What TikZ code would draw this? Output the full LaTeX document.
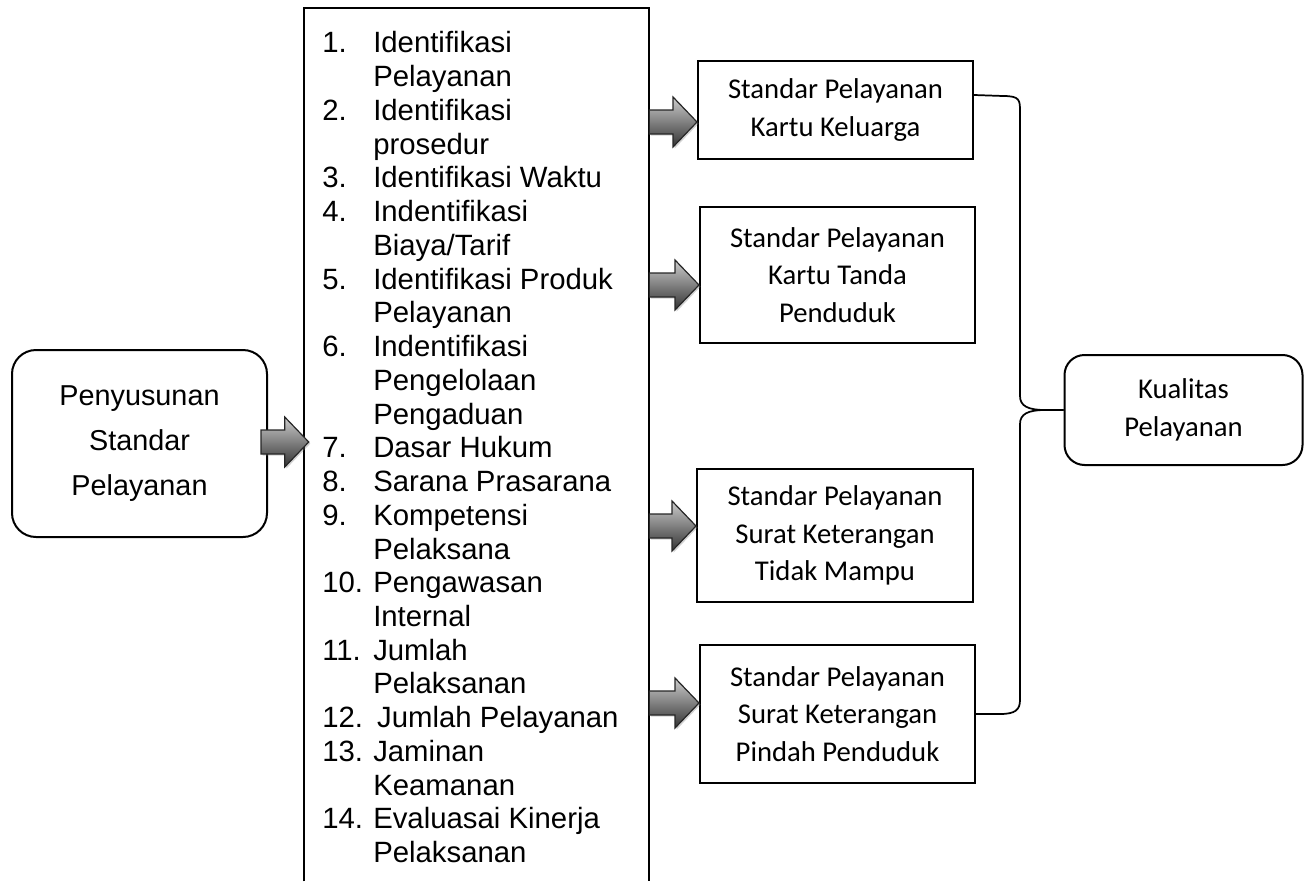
\documentclass[tikz,border=0pt]{standalone}
\usepackage{fontspec}
\setmainfont{Liberation Sans}
\newfontfamily\calib{Carlito}
\usetikzlibrary{calc,shadows}
\newcommand\fatarrow[4]{%
  \draw[fatarr] let \p1=(#1), \p2=(#2) in
    (\x1-#3,\y1+9pt) -- (\x2+#4-18pt,\y1+9pt) -- (\x2+#4-18pt,\y1+18.75pt) --
    (\x2+#4,\y1) -- (\x2+#4-18pt,\y1-18.75pt) -- (\x2+#4-18pt,\y1-9pt) --
    (\x1-#3,\y1-9pt) -- cycle;}
\begin{document}
\begin{tikzpicture}[x=0.75pt,y=-0.75pt,
  box/.style={draw, line width=1.5pt, rectangle, inner sep=0pt, align=center,
    font=\calib\fontsize{21.5}{28}\selectfont},
  rbox/.style={draw, line width=1.5pt, rounded corners=18pt, inner sep=0pt, align=center},
  fatarr/.style={draw=black!85, line width=0.9pt, top color=gray!40, bottom color=black!80,
    drop shadow={shadow xshift=1.2pt, shadow yshift=-1.2pt, opacity=0.35}},
  bracesty/.style={line width=1.3pt}]
\useasboundingbox (0,0) rectangle (1305,881);

% left rounded box
\node[rbox, minimum width=191.25pt, minimum height=140.25pt,
  font=\fontsize{21.6}{33.75}\selectfont] (pen) at (139.5,443.5) {Penyusunan\\Standar\\Pelayanan};

% list box (open at bottom)
\node[inner sep=0pt, minimum width=258.75pt, minimum height=654.75pt] (list) at (476.5,444.5) {};
\draw[line width=1.7pt] (list.south west) -- (list.north west) -- (list.north east) -- (list.south east);
\node[anchor=base west, inner sep=0pt, font=\fontsize{22}{25.3}\selectfont] (items) at (322,53) {%
\renewcommand\arraystretch{1}%
\begin{tabular}[t]{@{}p{38.25pt}@{}l@{}}
1.& Identifikasi\\ & Pelayanan\\
2.& Identifikasi\\ & prosedur\\
3.& Identifikasi Waktu\\
4.& Indentifikasi\\ & Biaya/Tarif\\
5.& Identifikasi Produk\\ & Pelayanan\\
6.& Indentifikasi\\ & Pengelolaan\\ & Pengaduan\\
7.& Dasar Hukum\\
8.& Sarana Prasarana\\
9.& Kompetensi\\ & Pelaksana\\
10.& Pengawasan\\ & Internal\\
11.& Jumlah\\ & Pelaksanan\\
12.& \hspace{3pt}Jumlah Pelayanan\\
13.& Jaminan\\ & Keamanan\\
14.& Evaluasai Kinerja\\ & Pelaksanan
\end{tabular}};

% right boxes
\node[box, minimum width=206.25pt, minimum height=73.5pt] (b1) at (835.5,110) {Standar Pelayanan\\Kartu Keluarga};
\node[box, minimum width=206.25pt, minimum height=102pt] (b2) at (837.5,275) {Standar Pelayanan\\Kartu Tanda\\Penduduk};
\node[box, minimum width=207pt, minimum height=99.75pt] (b3) at (835,535.5) {Standar Pelayanan\\Surat Keterangan\\Tidak Mampu};
\node[box, minimum width=206.25pt, minimum height=103.5pt] (b4) at (837.5,714) {Standar Pelayanan\\Surat Keterangan\\Pindah Penduduk};

% result box
\node[rbox, rounded corners=15pt, minimum width=178.5pt, minimum height=82.5pt,
  font=\calib\fontsize{21.5}{28}\selectfont] (kual) at (1183.5,410) {Kualitas\\Pelayanan};

% block arrows
\coordinate (ya) at (0,442);
\coordinate (y1) at (0,122);
\coordinate (y2) at (0,285);
\coordinate (y3) at (0,526);
\coordinate (y4) at (0,703);
\fatarrow{pen.east |- ya}{list.west |- ya}{5.25pt}{3.75pt}
\fatarrow{list.east |- y1}{b1.west |- y1}{0pt}{0pt}
\fatarrow{list.east |- y2}{b2.west |- y2}{0pt}{0pt}
\fatarrow{list.east |- y3}{b3.west |- y3}{0pt}{0pt}
\fatarrow{list.east |- y4}{b4.west |- y4}{0pt}{0pt}

% brace
\draw[bracesty] ([yshift=-26.25pt]b1.north east) -- (1003,96)
  .. controls (1020,96) and (1020,100) .. (1020,112) -- (1020,396)
  .. controls (1020,406) and (1028,410) .. (1045,410) -- (kual.west);
\draw[bracesty] (kual.west) -- (1045,410)
  .. controls (1028,410) and (1020,414) .. (1020,424) -- (1020,700)
  .. controls (1020,710) and (1015,714) .. (1000,714) -- (b4.east);
\end{tikzpicture}
\end{document}
